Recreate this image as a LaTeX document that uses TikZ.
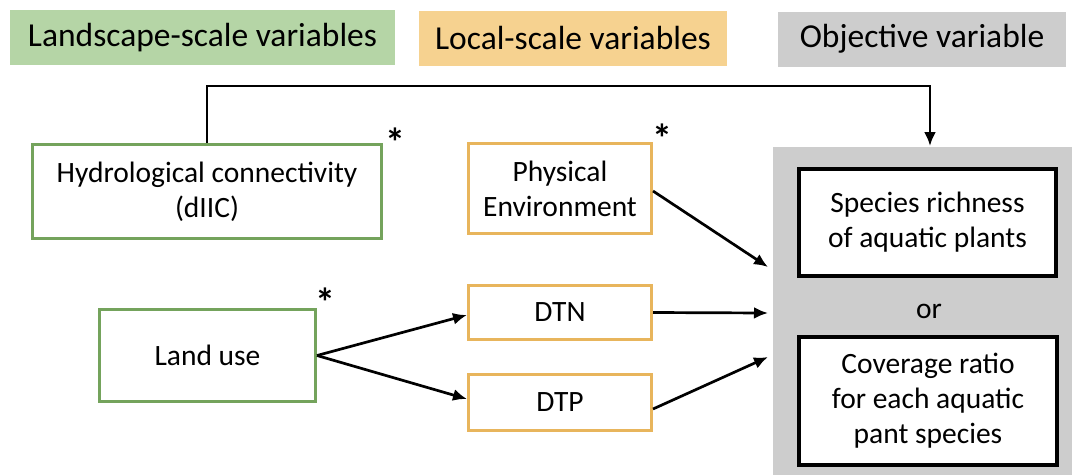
\documentclass[tikz,border=0pt]{standalone}
\usepackage{fontspec}
\setmainfont{Carlito}
\usetikzlibrary{arrows.meta}
\definecolor{hgreen}{HTML}{B5D5A6}
\definecolor{horange}{HTML}{F6D290}
\definecolor{hgray}{HTML}{CDCDCD}
\definecolor{bgreen}{HTML}{74A35C}
\definecolor{borange}{HTML}{E8B55C}
\begin{document}
\begin{tikzpicture}[x=1pt,y=-1pt,
  header/.style={inner sep=0pt, minimum height=55pt, font=\fontsize{33.5}{40}\selectfont},
  gbox/.style={draw=bgreen, line width=3pt, fill=white, inner sep=0pt, align=center, font=\fontsize{29.5}{35}\selectfont},
  obox/.style={draw=borange, line width=3pt, fill=white, inner sep=0pt, align=center, font=\fontsize{29.5}{35}\selectfont},
  kbox/.style={draw=black, line width=4pt, fill=white, inner sep=0pt, align=center, font=\fontsize{29.5}{35}\selectfont},
  star/.style={inner sep=0pt, font=\fontsize{40}{40}\selectfont\bfseries},
  conn/.style={line width=2.7pt, -{Latex[length=14pt,width=12pt]}}]
\useasboundingbox (0,0) rectangle (1072,475);
\fill[white] (0,0) rectangle (1072,475);
% headers
\node[header, fill=hgreen, minimum width=385pt] (hland) at (202.5,37.5) {Landscape-scale variables};
\node[header, fill=horange, minimum width=308pt] (hlocal) at (573,38) {Local-scale variables};
\node[header, fill=hgray, minimum width=288pt] (hobj) at (922,39) {Objective variable};
% objective area
\node[fill=hgray, inner sep=0pt, minimum width=299pt, minimum height=328pt] (objarea) at (922.5,311) {};
% boxes
\node[gbox, minimum width=349pt, minimum height=94pt] (hydro) at (207,191.5) {Hydrological connectivity\\(dIIC)};
\node[gbox, minimum width=216pt, minimum height=92pt] (land) at (207.5,355.5) {Land use};
\node[obox, minimum width=183pt, minimum height=90pt] (phys) at (560,188.5) {Physical\\Environment};
\node[obox, minimum width=183pt, minimum height=54pt] (dtn) at (560,312.5) {DTN};
\node[obox, minimum width=183pt, minimum height=56pt] (dtp) at (560,402.5) {DTP};
\node[kbox, minimum width=257pt, minimum height=107pt] (rich) at (927.5,222.5) {Species richness\\of aquatic plants};
\node[kbox, minimum width=258pt, minimum height=128pt] (cover) at (928,401) {Coverage ratio\\for each aquatic\\pant species};
\node[inner sep=0pt, font=\fontsize{29.5}{35}\selectfont] (or) at (929,311) {or};
% asterisks
\node[star] (s1) at (395,142) {*};
\node[star] (s2) at (662,138) {*};
\node[star] (s3) at (325,302) {*};
% connectors
\coordinate (bend) at (930,86);
\coordinate (ttop) at (930,146);
\coordinate (t1) at (768,267);
\coordinate (t2) at (768,313);
\coordinate (t3) at (768,357);
\draw[conn] (hydro.north) |- (bend) -- (ttop);
\draw[conn] (phys.east |- 0,191) -- (t1);
\draw[conn] (dtn.east) -- (t2);
\draw[conn] (dtp.east |- 0,409) -- (t3);
\draw[conn] (land.east) -- (dtn.west |- 0,315);
\draw[conn] (land.east) -- (dtp.west |- 0,399);
\end{tikzpicture}
\end{document}
